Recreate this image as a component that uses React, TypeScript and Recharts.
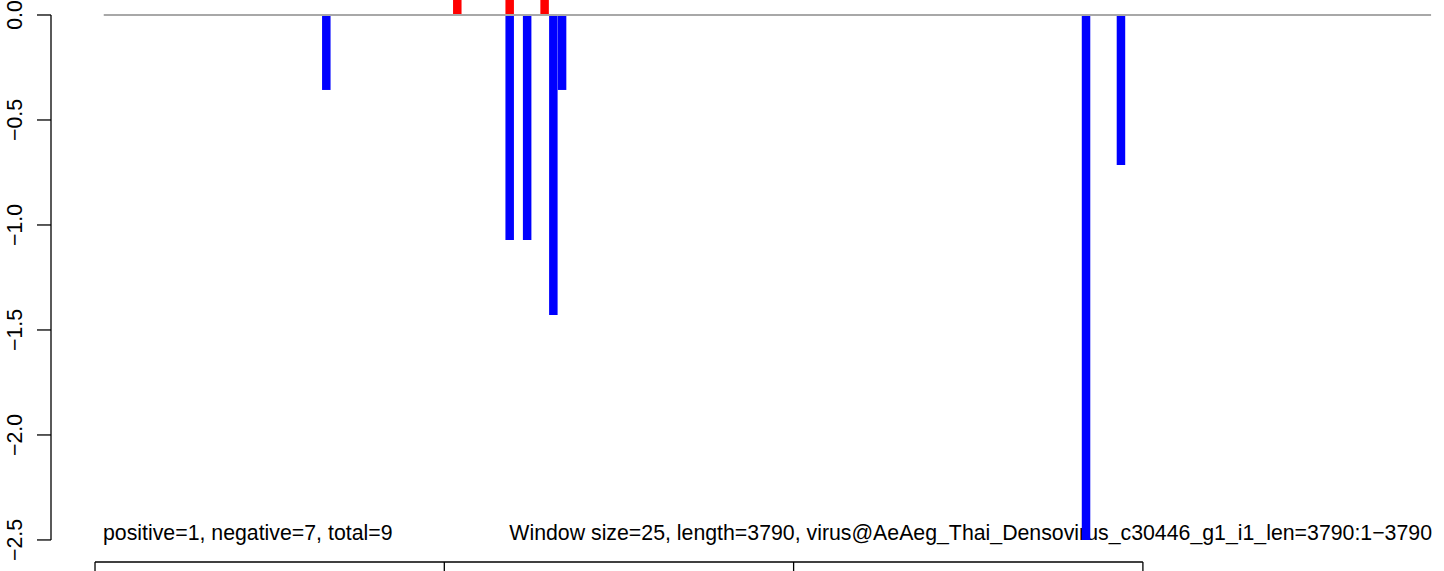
import { Bar, ComposedChart, Customized, ReferenceLine, XAxis, YAxis } from "recharts"

// window starts (nt) and scores
const windowSize = 25
const negWindows = [650, 1175, 1225, 1300, 1325, 2825, 2925]
const negValues = [-0.357, -1.071, -1.071, -1.429, -0.357, -2.5, -0.714]
const posWindows = [1025, 1175, 1275]
const posValues = [0.357, 0.357, 0.357]

const yTicks = [-2.5, -2, -1.5, -1, -0.5, 0]
const xTicks = [0, 1000, 2000, 3000]
const leftNote = "positive=1, negative=7, total=9"
const rightNote = "Window size=25, length=3790, virus@AeAeg_Thai_Densovirus_c30446_g1_i1_len=3790:1\u22123790"

const starts = Array.from(new Set([...negWindows, ...posWindows])).sort((a, b) => a - b)
const data = starts.map((s) => {
  const ni = negWindows.indexOf(s)
  const pi = posWindows.indexOf(s)
  return {
    pos: s + windowSize / 2,
    neg: ni >= 0 ? negValues[ni] : null,
    plus: pi >= 0 ? posValues[pi] : null,
  }
})

const X_DOMAIN: [number, number] = [-126, 3862]
const Y_DOMAIN: [number, number] = [-2.605, 0.0714]
const FONT = "'Liberation Sans', Arial, Helvetica, sans-serif"
const FS = 21.3

const YTick = ({ x, y, payload }: any) => (
  <text
    x={x}
    y={y}
    transform={`rotate(-90 ${x} ${y})`}
    textAnchor="middle"
    fill="#000"
    fontSize={FS}
    fontFamily={FONT}
  >
    {payload.value === 0 ? "0.0" : payload.value.toFixed(1).replace("-", "\u2212")}
  </text>
)

const Notes = () => (
  <g fontFamily={FONT} fontSize={FS} fill="#000">
    <text x={103} y={540}>{leftNote}</text>
    <text x={1432} y={540} textAnchor="end">{rightNote}</text>
  </g>
)

export default function App() {
  return (
    <div style={{ position: "absolute", left: 0, top: 0, background: "#fff" }}>
      <ComposedChart
        width={1444}
        height={600}
        data={data}
        stackOffset="sign"
        margin={{ top: 0, right: 0, left: 0, bottom: 0 }}
      >
        <XAxis
          type="number"
          dataKey="pos"
          domain={X_DOMAIN}
          allowDataOverflow
          ticks={xTicks}
          axisLine={false}
          tickLine={{ stroke: "#000", strokeWidth: 1.3 }}
          tickSize={12}
          height={38}
          tick={() => <g />}
        />
        <YAxis
          type="number"
          domain={Y_DOMAIN}
          allowDataOverflow
          ticks={yTicks}
          width={51}
          axisLine={false}
          tickLine={{ stroke: "#000", strokeWidth: 1.3 }}
          tickSize={14}
          tickMargin={15}
          tick={<YTick />}
        />
        <Customized component={Notes} />
        <ReferenceLine
          segment={[{ x: 25, y: 0 }, { x: 3825, y: 0 }]}
          stroke="#a8a8a8"
          strokeWidth={2}
          ifOverflow="visible"
        />
        <ReferenceLine
          segment={[{ x: X_DOMAIN[0], y: 0 }, { x: X_DOMAIN[0], y: -2.5 }]}
          stroke="#000"
          strokeWidth={1.3}
          ifOverflow="visible"
        />
        <ReferenceLine
          segment={[{ x: 0, y: Y_DOMAIN[0] }, { x: 3000, y: Y_DOMAIN[0] }]}
          stroke="#000"
          strokeWidth={1.3}
          ifOverflow="visible"
        />
        <Bar dataKey="plus" stackId="s" fill="#ff0000" barSize={8.5} isAnimationActive={false} />
        <Bar dataKey="neg" stackId="s" fill="#0000ff" barSize={8.5} isAnimationActive={false} />
      </ComposedChart>
    </div>
  )
}
